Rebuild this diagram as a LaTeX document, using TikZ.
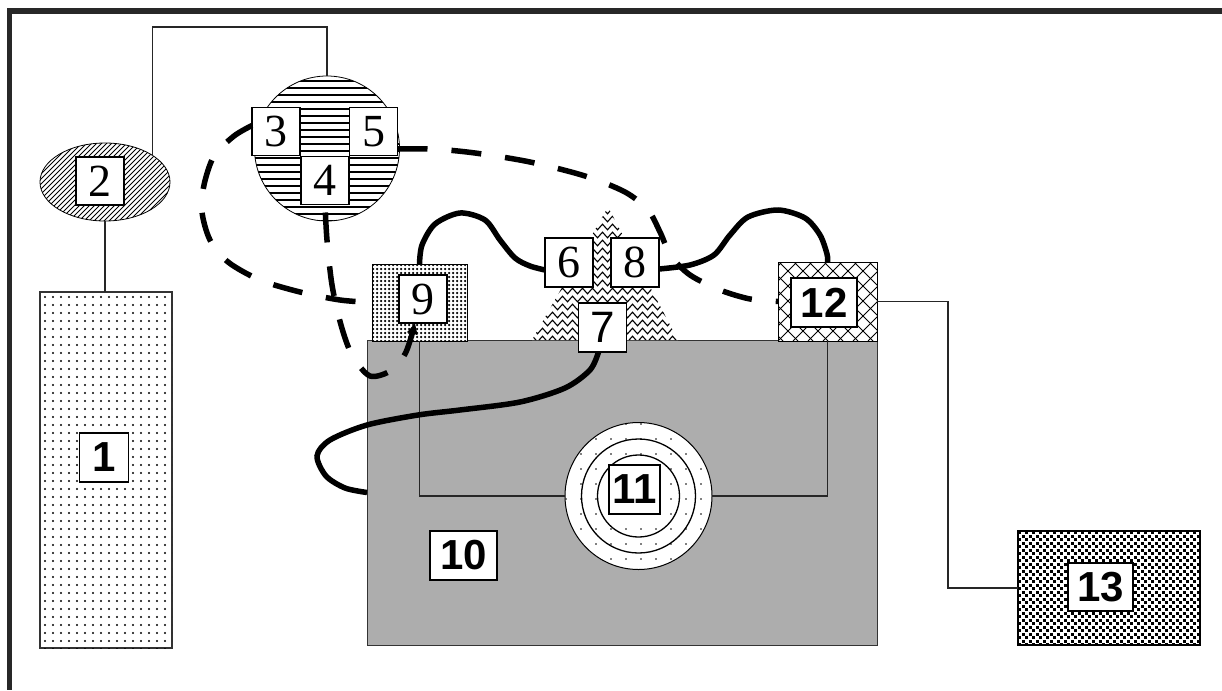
\documentclass[tikz,border=0pt]{standalone}
\usepackage{fontspec}
\setmainfont{Liberation Serif}
\newfontfamily\sansf{Liberation Sans}
\usetikzlibrary{shapes.geometric,decorations.pathmorphing,arrows.meta}
\definecolor{framec}{RGB}{40,40,40}
\definecolor{grayten}{RGB}{173,173,173}
\begin{document}
\begin{tikzpicture}[x=1pt,y=-1pt,
  lab/.style={draw=black, line width=1.4pt, fill=white, inner sep=0pt, outer sep=0pt, minimum width=48pt, minimum height=48pt},
  serifnum/.style={lab, font=\fontsize{46pt}{46pt}\selectfont},
  sansnum/.style={lab, font=\sansf\bfseries\fontsize{42pt}{42pt}\selectfont},
  sansthin/.style={lab, font=\sansf\fontsize{44pt}{44pt}\selectfont},
  shapebox/.style={draw=black, line width=1pt, fill=white, inner sep=0pt, outer sep=0pt},
  thinlink/.style={line width=1.3pt, draw=black!85},
  thicklink/.style={line width=5.5pt},
  dashlink/.style={line width=5.5pt, dash pattern=on 30pt off 24pt},
  hatch/.style={line width=0.9pt}
]
\useasboundingbox (0,0) rectangle (1222,690);
\fill[white] (0,0) rectangle (1222,690);
% window frame
\fill[framec] (7,8) rectangle (1222,14);
\fill[framec] (7,8) rectangle (12,690);

% ---- 1 : tall dotted box
\node[shapebox, draw=black!80, line width=1.4pt, minimum width=132pt, minimum height=356pt] (b1) at (106,470) {};
\begin{scope}
  \clip (b1.south west) rectangle (b1.north east);
  \foreach \i in {0,...,16}{\foreach \j in {0,...,44}{\fill (45+\i*8, 297+\j*8) circle[radius=1.15pt];}}
\end{scope}
\node[sansnum, minimum width=49pt, minimum height=49pt] (l1) at (104,457.5) {1};

% ---- 2 : hatched ellipse
\node[ellipse, shapebox, line width=0.8pt, minimum width=130pt, minimum height=78pt] (e2) at (105,182) {};
\begin{scope}
  \clip (105,182) ellipse [x radius=65pt, y radius=39pt];
  \foreach \k in {-70,-65,...,180}{\draw[hatch] (\k,230) -- (\k+100,130);}
\end{scope}
\node[serifnum] (l2) at (100,181) {2};

% ---- 3/4/5 : circle with horizontal lines
\node[circle, shapebox, line width=0.8pt, minimum size=145pt] (c345) at (327,148.5) {};
\begin{scope}
  \clip (327,148.5) circle[radius=72.5pt];
  \foreach \y in {81,88,...,222}{\draw[line width=1.4pt] (250,\y) -- (405,\y);}
\end{scope}
\node[serifnum] (b3) at (276,131.5) {3};
\node[serifnum] (b5) at (373.5,131.5) {5};
\node[serifnum] (b4) at (325,180.5) {4};

% ---- 10 : grey base
\node[shapebox, draw=black!80, fill=grayten, minimum width=510pt, minimum height=305pt] (b10) at (622,492.5) {};

% ---- 9 : dotted box
\node[shapebox, line width=0.8pt, minimum width=95pt, minimum height=77pt] (b9) at (419.5,302.5) {};
\begin{scope}
  \clip (b9.south west) rectangle (b9.north east);
  \foreach \i in {0,...,24}{\foreach \j in {0,...,20}{\fill (373+\i*4, 265+\j*4) circle[radius=1.25pt];}}
\end{scope}

% ---- 12 : crosshatched box
\node[shapebox, minimum width=99pt, minimum height=79pt] (b12) at (827.5,301.5) {};
\begin{scope}
  \clip (b12.south west) rectangle (b12.north east);
  \foreach \k in {-90,-75,...,120}{
    \draw[hatch] (778+\k,341) -- (858+\k,261);
    \draw[hatch] (778+\k,261) -- (858+\k,341);}
\end{scope}

% ---- triangle 6/7/8 with waves
\coordinate (t1) at (608,207);
\coordinate (t2) at (532,340);
\coordinate (t3) at (678,340);
\fill[white] (t1) -- (t2) -- (t3) -- cycle;
\begin{scope}
  \clip (t1) -- (t2) -- (t3) -- cycle;
  \foreach \y in {211,219,...,340}{\draw[line width=1.1pt, decorate, decoration={zigzag, segment length=10pt, amplitude=2.8pt}] (520,\y) -- (700,\y);}
\end{scope}

% ---- 11 : ringed circle
\node[circle, shapebox, minimum size=147pt] (c11) at (638.5,496) {};
\begin{scope}
  \clip (638.5,496) circle[radius=73pt];
  \foreach \i in {0,...,10}{\foreach \j in {0,...,10}{\fill (566+\i*15, 424+\j*15) circle[radius=0.9pt];}}
\end{scope}
\draw[line width=1.3pt] (c11.center) circle[radius=57pt];
\draw[line width=1.3pt] (c11.center) circle[radius=41pt];

% ---- 13 : speckled box
\node[shapebox, line width=1.2pt, minimum width=182pt, minimum height=114pt] (b13) at (1109,588) {};
\begin{scope}
  \clip (b13.south west) rectangle (b13.north east);
  \foreach \i in {0,...,26}{\foreach \j in {0,...,16}{
    \fill (1018+\i*7, 531+\j*7) rectangle ++(3.2,3.2);
    \fill (1021.5+\i*7, 534.5+\j*7) rectangle ++(3.2,3.2);}}
\end{scope}

% ---- labels
\node[serifnum] (l9) at (423,299) {9};
\node[sansnum, minimum width=66pt, minimum height=49pt] (l12) at (824,302.5) {12};
\node[serifnum, minimum height=49pt] (b6) at (569,262.5) {6};
\node[serifnum, minimum height=49pt] (b8) at (635,262.5) {8};
\node[sansthin, minimum height=49pt] (b7) at (602.5,327.5) {7};
\node[sansnum, minimum width=67pt, minimum height=49pt] (l10) at (463.5,555.5) {10};
\node[sansnum, minimum width=51pt, minimum height=49pt] (l11) at (634.5,489.5) {11};
\node[sansnum, minimum width=65pt, minimum height=48pt] (l13) at (1100.5,587) {13};

% ---- thin connectors
\draw[thinlink] (e2.south) -- (e2.south |- b1.north);
\draw[thinlink] (e2.29) |- ([yshift=49pt]c345.north) -- (c345.north);
\draw[thinlink] (b9.south) |- (c11.west);
\draw[thinlink] (c11.east) -| (b12.south);
\draw[thinlink] (b12.east) -- ++(71,0) |- (b13.west);

% ---- thick solid connectors
\draw[thicklink] plot[smooth] coordinates {(b9.north) (422,245) (435,224) (460,213) (485,220) (500,240) (515,258) (530,266) ([yshift=-7.5pt]b6.west)};
\draw[thicklink] plot[smooth] coordinates {([yshift=-6.5pt]b8.east) (690,265) (714,255) (730,235) (748,217) (778,210) (805,218) (820,235) (827,254) (b12.north)};
\draw[thicklink] plot[smooth] coordinates {([xshift=-4pt]b7.south) (590,370) (565,388) (520,402) (460,410) (418,415) (367,425) (330,440) (317,456) (326,476) (345,488) (b10.west)};

% ---- thick dashed connectors
\draw[dashlink] plot[smooth] coordinates {([yshift=-17.5pt]b5.east) (433,149) (475,153) (530,162) (585,176) (625,192) (648,210) (660,232) (671,256) (690,275) (720,290) (750,299) (b12.west)};
\draw[dashlink] plot[smooth] coordinates {([yshift=6pt]b3.west) (234,136) (214,156) (204,185) (202,212) (210,240) (228,262) (260,280) (300,292) (340,300) (b9.west)};
\draw[dashlink, dash phase=46pt, -{Triangle[length=11pt,width=10pt]}] plot[smooth] coordinates {(b4.south) (327,240) (332,285) (341,325) (352,355) (370,376) (392,370) (406,352) ([xshift=-8pt]l9.south)};
\end{tikzpicture}
\end{document}
